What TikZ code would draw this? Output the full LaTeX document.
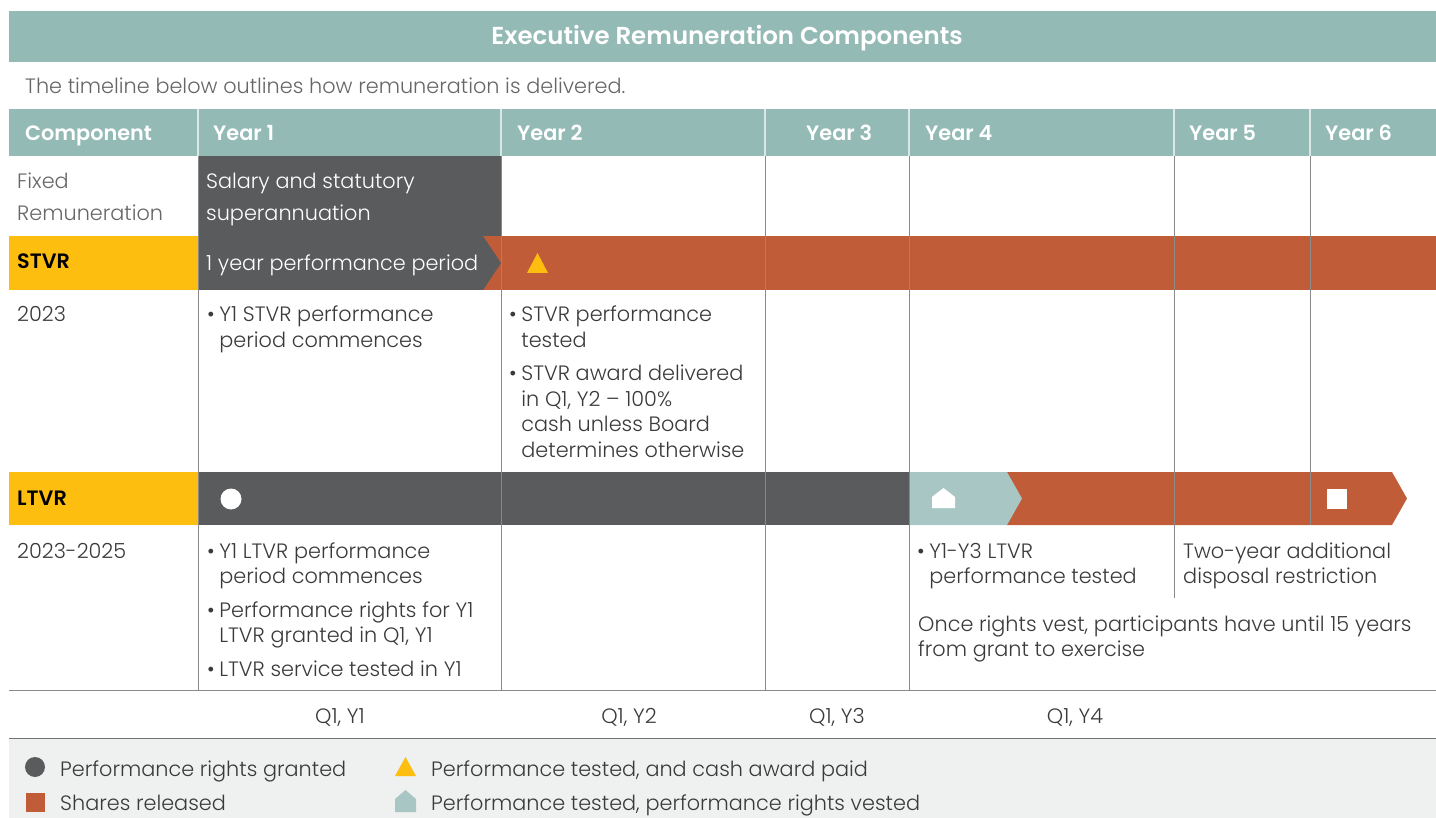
\documentclass[tikz,border=0pt]{standalone}
\usepackage{fontspec}
\setmainfont{Poppins}[UprightFont=*-Light, BoldFont=*-SemiBold]
\usetikzlibrary{positioning}
\definecolor{remteal}{HTML}{94BAB6}
\definecolor{remlight}{HTML}{A8C6C4}
\definecolor{remdark}{HTML}{5A5B5D}
\definecolor{remorange}{HTML}{C15C39}
\definecolor{remyellow}{HTML}{FDBE10}
\definecolor{remtext}{HTML}{3A3A3A}
\definecolor{remgrid}{HTML}{8A8A8A}
\definecolor{remlegend}{HTML}{EFF1F0}
\newcommand{\stack}[1]{\begin{tabular}[t]{@{}l@{}}#1\end{tabular}}
\newcommand{\bitem}[1]{\textbullet\hspace{0.22em}\stack{#1}}

\begin{document}
\begin{tikzpicture}[
  x=1pt, y=-1pt,
  title/.style={text=white, font=\fontsize{24.5}{28}\selectfont\bfseries, inner sep=0pt},
  colhead/.style={anchor=base west, text=white, font=\fontsize{20.8}{24}\selectfont\bfseries, inner sep=0pt},
  rowhead/.style={anchor=base west, text=black, font=\fontsize{20.8}{24}\selectfont\bfseries, inner sep=0pt},
  cell/.style={anchor=base west, text=remtext, font=\fontsize{20.8}{25.5}\selectfont, inner sep=0pt},
  widecell/.style={cell, font=\fontsize{20.8}{31.5}\selectfont},
  quarter/.style={anchor=base, text=remtext, font=\fontsize{20.8}{24}\selectfont, inner sep=0pt},
  gridline/.style={draw=remgrid, line width=0.8pt},
  headsep/.style={draw=white!65!remteal, line width=1.2pt}
]
\useasboundingbox (0,0) rectangle (1436,818);

% title and header band
\fill[remteal] (9,11) rectangle (1436,62);
\node[title] (ttl) at (727,38) {Executive Remuneration Components};
\node[cell, text=black!60] (sub) at (25,94) {The timeline below outlines how remuneration is delivered.};
\fill[remteal] (9,109) rectangle (1436,156);
\foreach \cx in {198,501,765,909,1174,1310}
  \draw[headsep] (\cx,109) -- (\cx,156);
\node[colhead] (hcomp) at (25,141) {Component};
\node[colhead] (hy1) at (213,141) {Year 1};
\node[colhead] (hy2) at (517,141) {Year 2};
\node[colhead] (hy3) at (806,141) {Year 3};
\node[colhead] (hy4) at (925,141) {Year 4};
\node[colhead] (hy5) at (1189,141) {Year 5};
\node[colhead] (hy6) at (1325,141) {Year 6};

% bars
\fill[remdark] (198,156) rectangle (501,236);
\fill[remyellow] (9,236) rectangle (198,290);
\fill[remorange] (483,236) rectangle (1436,290);
\fill[remdark] (198,236) -- (483,236) -- (501,263) -- (483,290) -- (198,290) -- cycle;
\fill[remyellow] (9,472) rectangle (198,525);
\fill[remdark] (198,472) rectangle (909,525);
\fill[remorange] (1007,472) -- (1392,472) -- (1407,498.5) -- (1392,525) -- (1007,525) -- cycle;
\fill[remlight] (909,472) -- (1007,472) -- (1022,498.5) -- (1007,525) -- (909,525) -- cycle;

% grid
\foreach \cx in {198,501,765,909}
  \draw[gridline] (\cx,156) -- (\cx,690);
\draw[gridline] (1174,156) -- (1174,598);
\draw[gridline] (1310,156) -- (1310,525);
\draw[gridline] (9,690) -- (1436,690);
\fill[remlegend] (9,738) rectangle (1436,818);
\draw[gridline, draw=black!55] (9,738) -- (1436,738);

% markers on the bars
\fill[remyellow] (527,273) -- (548,273) -- (537.5,253) -- cycle;
\fill[white] (231,499) circle (10.5);
\fill[white] (932,508) -- (955,508) -- (955,497) -- (943.5,488) -- (932,497) -- cycle;
\fill[white] (1327,489) rectangle (1347,509);

% fixed remuneration
\node[widecell, text=black!60] (fixlbl) at (17,189) {\stack{Fixed\\Remuneration}};
\node[widecell, text=white] (salary) at (206,189) {\stack{Salary and statutory\\superannuation}};

% STVR
\node[rowhead] (stvr) at (17,269) {STVR};
\node[cell, text=white] (stvrbar) at (206,271) {1 year performance period};
\node[cell] (stvryr) at (17,322) {2023};
\node[cell] (stvra) at (207,322) {\bitem{Y1 STVR performance\\period commences}};
\node[cell] (stvrb) at (509,322) {\bitem{STVR performance\\tested}};
\node[cell] (stvrc) at (509,381) {\bitem{STVR award delivered\\in Q1, Y2 – 100\%\\cash unless Board\\determines otherwise}};

% LTVR
\node[rowhead] (ltvr) at (17,505) {LTVR};
\node[cell] (ltvryr) at (17,558) {2023-2025};
\node[cell] (ltvra) at (207,558) {\bitem{Y1 LTVR performance\\period commences}};
\node[cell] (ltvrb) at (207,617) {\bitem{Performance rights for Y1\\LTVR granted in Q1, Y1}};
\node[cell] (ltvrc) at (207,676) {\bitem{LTVR service tested in Y1}};
\node[cell] (ltvrd) at (917,558) {\bitem{Y1-Y3 LTVR\\performance tested}};
\node[cell] (ltvre) at (1183,558) {\stack{Two-year additional\\disposal restriction}};
\node[cell] (ltvrf) at (918,631) {\stack{Once rights vest, participants have until 15 years\\from grant to exercise}};

% quarters
\node[quarter] (q1) at (340,723) {Q1, Y1};
\node[quarter] (q2) at (629,723) {Q1, Y2};
\node[quarter] (q3) at (837,723) {Q1, Y3};
\node[quarter] (q4) at (1075,723) {Q1, Y4};

% legend
\fill[remdark] (35,767) circle (10);
\node[cell] (lgrant) at (60,776) {Performance rights granted};
\fill[remorange] (26,793) rectangle (45,812);
\node[cell] (lshare) at (60,810) {Shares released};
\fill[remyellow] (395,776) -- (416,776) -- (405.5,757) -- cycle;
\node[cell] (lcash) at (431,776) {Performance tested, and cash award paid};
\fill[remlight] (395,812) -- (416,812) -- (416,799) -- (405.5,790) -- (395,799) -- cycle;
\node[cell] (lvest) at (431,810) {Performance tested, performance rights vested};
\end{tikzpicture}
\end{document}
